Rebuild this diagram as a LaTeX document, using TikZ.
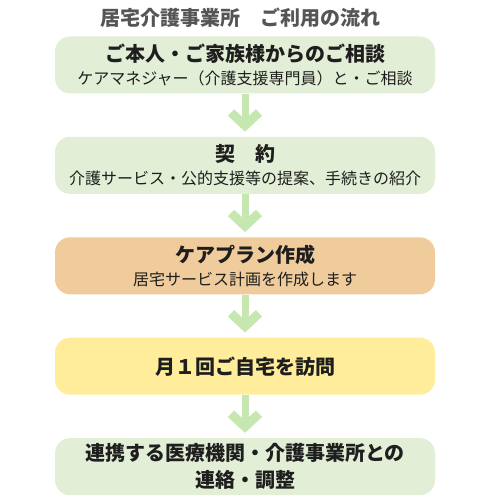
\documentclass[tikz,border=0pt]{standalone}
\usepackage{fontspec}
\setmainfont{Noto Sans CJK JP}
\usetikzlibrary{positioning,arrows.meta}

\definecolor{boxgreen}{HTML}{E2EFD6}
\definecolor{boxorange}{HTML}{F0CB9C}
\definecolor{boxyellow}{HTML}{FFED9B}
\definecolor{arrowgreen}{HTML}{C6E8B0}
\definecolor{titlegray}{HTML}{555555}
\definecolor{textdark}{HTML}{1E1E1E}

\newcommand{\subline}[1]{{\mdseries\fontsize{16}{23}\selectfont #1}}

\begin{document}
\begin{tikzpicture}[x=1pt,y=-1pt,
    stepbox/.style={shape=rectangle, rounded corners=15pt, minimum width=380pt, minimum height=57pt,
      inner sep=0pt, align=center, text=textdark, font=\bfseries\fontsize{20}{23}\selectfont},
    flow/.style={draw=arrowgreen, line width=7pt, shorten >=5pt,
      -{Straight Barb[length=13pt,width=28pt,line width=9pt]}},
    node distance=43pt]
    \useasboundingbox (0,0) rectangle (488,500);
    \node [text=titlegray, font=\bfseries\fontsize{20}{24}\selectfont] (title) at (240,18) {居宅介護事業所　ご利用の流れ};
    \node [stepbox, fill=boxgreen] (s1) at (245,65) {ご本人・ご家族様からのご相談\\\subline{ケアマネジャー（介護支援専門員）と・ご相談}};
    \node [stepbox, fill=boxgreen, below=of s1] (s2) {契　約\\\subline{介護サービス・公的支援等の提案、手続きの紹介}};
    \node [stepbox, fill=boxorange, below=of s2] (s3) {ケアプラン作成\\\subline{居宅サービス計画を作成します}};
    \node [stepbox, fill=boxyellow, below=of s3] (s4) {月１回ご自宅を訪問};
    \node [stepbox, fill=boxgreen, below=of s4, font=\bfseries\fontsize{20}{27}\selectfont] (s5) {連携する医療機関・介護事業所との\\連絡・調整};
    \draw [flow] (s1) -- (s2);
    \draw [flow] (s2) -- (s3);
    \draw [flow] (s3) -- (s4);
    \draw [flow] (s4) -- (s5);
\end{tikzpicture}
\end{document}
